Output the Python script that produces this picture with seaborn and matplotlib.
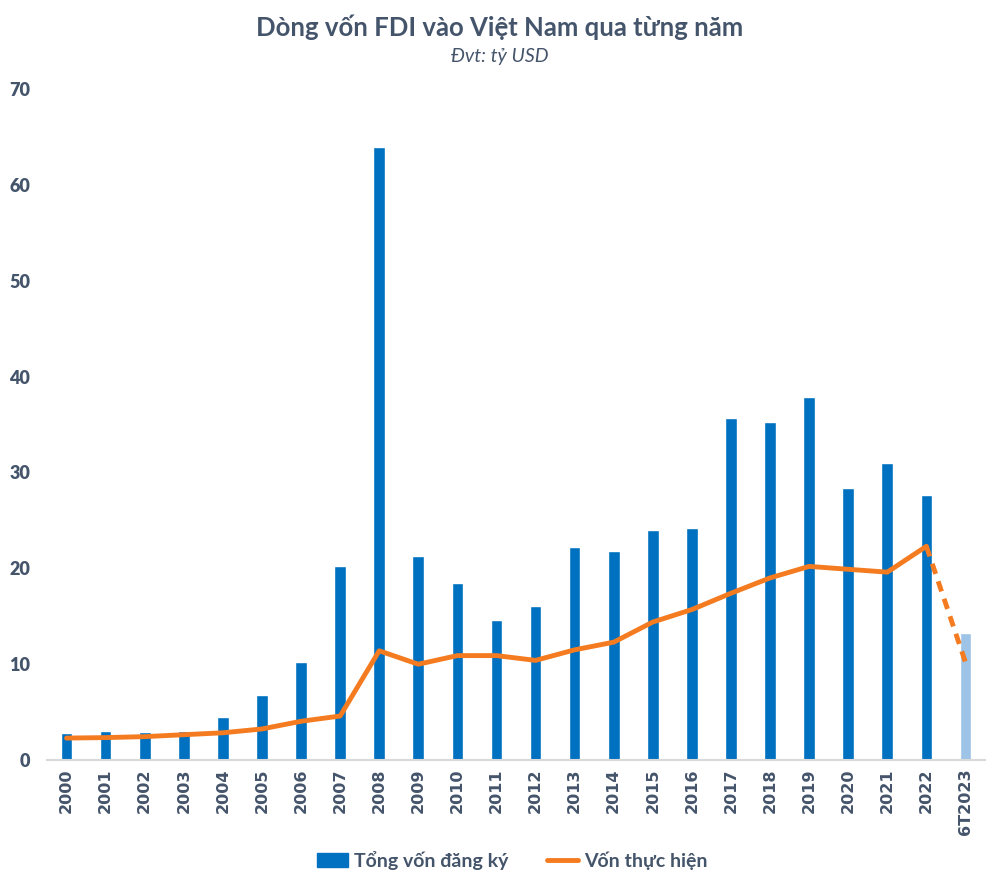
import numpy as np
import pandas as pd
import matplotlib.pyplot as plt
import seaborn as sns
from matplotlib.patches import Patch
from matplotlib.lines import Line2D

years = ['2000', '2001', '2002', '2003', '2004', '2005', '2006', '2007', '2008',
         '2009', '2010', '2011', '2012', '2013', '2014', '2015', '2016', '2017',
         '2018', '2019', '2020', '2021', '2022', '6T2023']
dang_ky = [2.8, 3.05, 2.95, 3.05, 4.45, 6.8, 10.2, 20.2, 63.9, 21.3, 18.5, 14.6,
           16.1, 22.2, 21.8, 24.0, 24.2, 35.7, 35.3, 37.9, 28.4, 31.0, 27.6, 13.3]
thuc_hien = [2.3, 2.35, 2.45, 2.65, 2.85, 3.25, 4.05, 4.6, 11.4, 10.0, 10.9, 10.9,
             10.4, 11.5, 12.3, 14.4, 15.7, 17.4, 19.0, 20.2, 19.9, 19.6, 22.3, 10.2]

blue = '#0070C0'
light_blue = '#9DC3E6'
orange = '#F47B20'
text_col = '#44546A'

df = pd.DataFrame({'nam': years, 'dang_ky': dang_ky, 'thuc_hien': thuc_hien})
bar_colors = {y: blue for y in years}
bar_colors['6T2023'] = light_blue

sns.set_style('white')
plt.rcParams['font.family'] = ['Lato', 'DejaVu Sans']

fig = plt.figure(figsize=(10, 8.88), dpi=100)
ax = fig.add_axes([0.047, 0.144, 0.938, 0.756])

sns.barplot(data=df, x='nam', y='dang_ky', hue='nam', palette=bar_colors,
            width=0.3, legend=False, ax=ax, saturation=1)
sns.lineplot(data=df.iloc[:-1], x='nam', y='thuc_hien', color=orange,
             linewidth=3.5, ax=ax, sort=False)
sns.lineplot(data=df.iloc[-2:], x='nam', y='thuc_hien', color=orange,
             linewidth=3.5, linestyle=(0, (2.2, 1.6)), ax=ax, sort=False)

ax.set_ylim(0, 70)
ax.set_xlim(-0.5, 23.5)
ax.set_yticks(range(0, 71, 10))
ax.set_xlabel('')
ax.set_ylabel('')
for s in ['top', 'right', 'left']:
    ax.spines[s].set_visible(False)
ax.spines['bottom'].set_color('#D9D9D9')
ax.spines['bottom'].set_linewidth(1.5)
ax.tick_params(axis='both', length=0)
ax.tick_params(axis='y', pad=12)
ax.tick_params(axis='x', pad=6)
plt.setp(ax.get_yticklabels(), fontsize=13, fontweight='heavy', color=text_col)
plt.setp(ax.get_xticklabels(), rotation=90, fontsize=11.5, fontweight='bold',
         color=text_col, family='DejaVu Sans')

fig.text(0.5, 0.969, 'Dòng vốn FDI vào Việt Nam qua từng năm', ha='center',
         va='center', fontsize=18.5, fontweight='bold', color=text_col)
fig.text(0.5, 0.936, 'Đvt: tỷ USD', ha='center', va='center', fontsize=14,
         style='italic', color=text_col)

handles = [Patch(facecolor=blue, edgecolor=blue),
           Line2D([0], [0], color=orange, linewidth=3.5)]
fig.legend(handles, ['Tổng vốn đăng ký', 'Vốn thực hiện'], loc='center',
           bbox_to_anchor=(0.512, 0.031), ncol=2, frameon=False,
           prop={'size': 14, 'weight': 'bold'}, labelcolor=text_col,
           handlelength=1.6, handletextpad=0.3, columnspacing=2.0)

fig.savefig('out.png', dpi=100)
